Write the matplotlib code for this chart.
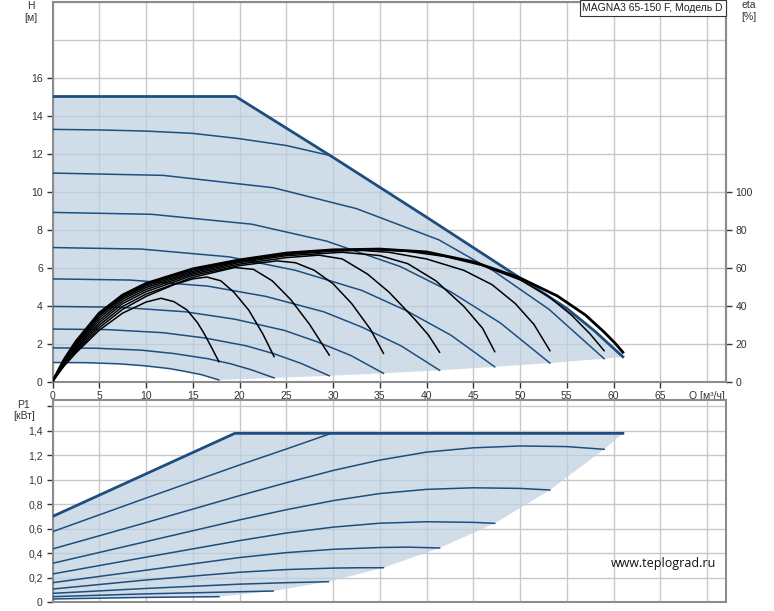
import numpy as np
import matplotlib
matplotlib.use('Agg')
import matplotlib.pyplot as plt

plt.rcParams['font.family'] = ['Liberation Sans', 'DejaVu Sans']

# ---- H(Q) - upper chart ----
# max curve (flat, then power limit)
q_max = [0, 19.6, 30, 40, 50, 55, 58, 61]
h_max = [15, 15, 11.8, 8.65, 5.45, 3.85, 2.65, 1.3]

# lower limit of the working area (min curve + curve end points)
q_min = [0, 3.6, 7.1, 9.8, 12.5, 14.2, 16.0, 17.8, 23.7, 29.6, 35.4, 41.4, 47.3, 53.2, 59.0, 61]
h_min = [1.0, 0.99, 0.93, 0.83, 0.68, 0.53, 0.35, 0.08, 0.19, 0.30, 0.43, 0.59, 0.77, 0.97, 1.20, 1.3]

# speed curves
h_q = [
    [0, 3.6, 7.1, 9.8, 12.5, 14.2, 16.0, 17.8],
    [0, 4.7, 9.5, 13.0, 16.6, 19.0, 21.3, 23.7],
    [0, 5.9, 11.8, 16.3, 20.7, 23.7, 26.6, 29.6],
    [0, 7.1, 14.2, 19.5, 24.8, 28.3, 31.9, 35.4],
    [0, 8.3, 16.6, 22.8, 29.0, 33.1, 37.3, 41.4],
    [0, 9.5, 18.9, 26.0, 33.1, 37.8, 42.6, 47.3],
    [0, 10.6, 21.3, 29.3, 37.2, 42.6, 47.9, 53.2],
    [0, 11.8, 23.6, 32.5, 41.3, 47.2, 53.1, 59.0],
    [0, 5, 10, 15, 20, 25, 29.8],
]
h_h = [
    [1.0, 0.99, 0.93, 0.83, 0.68, 0.53, 0.35, 0.08],
    [1.77, 1.75, 1.65, 1.47, 1.20, 0.94, 0.61, 0.19],
    [2.76, 2.73, 2.57, 2.29, 1.88, 1.46, 0.95, 0.30],
    [3.95, 3.91, 3.67, 3.28, 2.69, 2.09, 1.37, 0.43],
    [5.40, 5.34, 5.02, 4.48, 3.67, 2.86, 1.87, 0.59],
    [7.05, 6.97, 6.56, 5.85, 4.79, 3.74, 2.44, 0.77],
    [8.90, 8.80, 8.28, 7.39, 6.05, 4.72, 3.08, 0.97],
    [10.97, 10.85, 10.20, 9.10, 7.46, 5.81, 3.80, 1.20],
    [13.27, 13.24, 13.18, 13.06, 12.78, 12.42, 11.88],
]

# efficiency curves, eta [%]
eta_q = [
    [0, 1.25, 2.5, 5, 7.5, 10, 11.6, 13, 14.4, 15.5, 16.2, 17.0, 17.8],
    [0, 1.25, 2.5, 5, 7.5, 10, 13, 15, 16.5, 18, 19.4, 21, 22.5, 23.7],
    [0, 1.25, 2.5, 5, 7.5, 10, 15, 19.5, 21.5, 23.5, 25.5, 27.5, 29.6],
    [0, 1.25, 2.5, 5, 7.5, 10, 15, 20, 24, 26, 28, 30, 32, 34, 35.4],
    [0, 1.25, 2.5, 5, 7.5, 10, 15, 20, 25, 28.5, 31, 33.7, 36, 38.7, 40.2, 41.4],
    [0, 1.25, 2.5, 5, 7.5, 10, 15, 20, 25, 31, 35, 38, 41, 44, 46, 47.3],
    [0, 1.25, 2.5, 5, 7.5, 10, 15, 20, 25, 30, 33, 36, 40, 44, 47, 49.5, 51.5, 53.2],
    [0, 1.25, 2.5, 5, 7.5, 10, 15, 20, 25, 30, 34, 38, 42, 46, 50, 53, 55.5, 57.5, 59],
    [0, 1.25, 2.5, 5, 7.5, 10, 15, 20, 25, 30, 35, 40, 45, 50, 54, 57, 59, 60.2, 61],
]
eta_v = [
    [0, 8.2, 15, 27, 36, 41.8, 43.8, 42, 37.6, 31, 25.4, 18, 10.4],
    [0, 8.7, 15.8, 28.3, 38, 44.8, 51, 54, 55, 53, 47, 37.5, 25, 13.1],
    [0, 9.1, 16.6, 29.6, 39.5, 46, 54.8, 60, 59, 53, 43, 30, 13.9],
    [0, 9.6, 17.4, 30.9, 41, 47.3, 55.8, 61, 63.5, 62.5, 58.5, 51.5, 41, 27.5, 14.8],
    [0, 10.0, 18.2, 32.2, 42.2, 48.4, 56.6, 61.8, 65.2, 66.5, 64.5, 56.5, 47, 33, 24.5, 15.4],
    [0, 10.5, 19, 33.5, 43.3, 49.4, 57.3, 62.6, 66.2, 68, 66.3, 62, 53, 39.5, 28, 15.7],
    [0, 10.8, 19.7, 34.6, 44.2, 50.2, 58, 63.2, 66.8, 68.6, 69, 68, 64.5, 58.5, 51, 41, 30, 16.2],
    [0, 11.2, 20.4, 35.3, 44.9, 51, 58.7, 63.6, 67.2, 69, 69.5, 68.5, 65.8, 61, 53.5, 45, 35, 25, 16.2],
    [0, 11.6, 21, 36, 45.5, 51.6, 59.3, 64, 67.6, 69.3, 69.7, 68.2, 63, 54.5, 45, 35, 26, 20, 15.4],
]

# ---- P1(Q) - lower chart ----
q_pmax = [0, 19.5, 61]
p_pmax = [0.70, 1.378, 1.378]
q_pmin = [0, 9, 17.8, 23.6, 29.5, 35.4, 41.4, 47.3, 53.2, 59.0, 61]
p_pmin = [0.027, 0.039, 0.046, 0.092, 0.168, 0.282, 0.443, 0.644, 0.916, 1.248, 1.378]

p_q = [
    [0, 9, 17.8],
    [0, 10, 20, 23.6],
    [0, 10, 20, 25, 29.5],
    [0, 10, 20, 25, 30, 33, 35.4],
    [0, 10, 20, 25, 30, 35, 38, 41.4],
    [0, 10, 20, 25, 30, 35, 40, 45, 47.3],
    [0, 10, 20, 25, 30, 35, 40, 45, 50, 53.2],
    [0, 10, 20, 25, 30, 35, 40, 45, 50, 55, 59],
    [0, 10, 20, 25, 29.7],
]
p_v = [
    [0.027, 0.039, 0.046],
    [0.046, 0.069, 0.086, 0.092],
    [0.073, 0.113, 0.148, 0.160, 0.168],
    [0.108, 0.182, 0.245, 0.267, 0.279, 0.282, 0.282],
    [0.160, 0.262, 0.365, 0.405, 0.432, 0.447, 0.450, 0.443],
    [0.231, 0.368, 0.503, 0.565, 0.613, 0.645, 0.657, 0.652, 0.644],
    [0.318, 0.495, 0.672, 0.755, 0.829, 0.887, 0.921, 0.934, 0.929, 0.916],
    [0.435, 0.650, 0.870, 0.975, 1.075, 1.160, 1.225, 1.260, 1.275, 1.270, 1.248],
    [0.576, 0.850, 1.120, 1.250, 1.375],
]

q_ticks = list(range(0, 70, 5))
q_labels = [str(v) for v in q_ticks]
h_ticks = list(range(0, 18, 2))
eta_ticks = list(range(0, 120, 20))
p_ticks = [0, 0.2, 0.4, 0.6, 0.8, 1.0, 1.2, 1.4]
p_labels = ['0', '0,2', '0,4', '0,6', '0,8', '1,0', '1,2', '1,4']

BLUE = '#1d4e7e'
FILL = '#bccfe1'
GRID = '#c8c8c8'
SPINE = '#8c8c8c'
W, H = 774, 611

fig = plt.figure(figsize=(W / 100, H / 100), dpi=100)

def style(a):
    for s in a.spines.values():
        s.set_color(SPINE)
        s.set_linewidth(1.5)
    a.tick_params(labelsize=7.5, colors='#333333', length=4, width=1, pad=3)
    a.tick_params(which='minor', length=0)
    a.grid(True, which='both', color=GRID, lw=1.0)

# upper chart
ax = fig.add_axes([52.5 / W, 1 - 381.5 / H, 673.2 / W, 380 / H])
ax.set_xlim(0, 72)
ax.set_ylim(0, 20)
ax.set_xticks(q_ticks)
ax.set_xticklabels(q_labels)
ax.set_xticks([70], minor=True)
ax.set_yticks(h_ticks)
ax.set_yticks([18, 20], minor=True)
style(ax)
ax.text(70, -0.5, 'Q [м³/ч]', ha='center', va='top', fontsize=7.5, color='#333333')

ax.fill(np.concatenate([q_max, q_min[::-1]]), np.concatenate([h_max, h_min[::-1]]),
        color=FILL, alpha=0.7, lw=0, zorder=2)
for q, h in zip(h_q, h_h):
    ax.plot(q, h, color=BLUE, lw=1.1, zorder=3)
ax.plot(q_max, h_max, color=BLUE, lw=2, zorder=3)

ax2 = ax.twinx()
ax2.set_ylim(0, 200)
ax2.set_yticks(eta_ticks)
for k in ['top', 'left', 'bottom']:
    ax2.spines[k].set_visible(False)
ax2.spines['right'].set_color(SPINE)
ax2.spines['right'].set_linewidth(1.5)
ax2.tick_params(labelsize=7.5, colors='#333333', length=4, width=1, pad=3)
for i, (q, e) in enumerate(zip(eta_q, eta_v)):
    ax2.plot(q, e, color='black', lw=2 if i == len(eta_q) - 1 else 1.1, zorder=4)

# lower chart
axp = fig.add_axes([52.5 / W, 1 - 602.3 / H, 673.2 / W, 202.3 / H])
axp.set_xlim(0, 72)
axp.set_ylim(0, 1.65)
axp.set_xticks(list(range(0, 75, 5)))
axp.set_yticks(p_ticks)
axp.set_yticklabels(p_labels)
axp.set_yticks([1.6], minor=True)
style(axp)
axp.tick_params(axis='x', length=0, labelbottom=False)
axp.tick_params(axis='y', which='minor', length=4, width=1, color='#333333')

axp.fill(np.concatenate([q_pmax, q_pmin[::-1]]), np.concatenate([p_pmax, p_pmin[::-1]]),
         color=FILL, alpha=0.7, lw=0, zorder=2)
for q, p in zip(p_q, p_v):
    axp.plot(q, p, color=BLUE, lw=1.1, zorder=3)
axp.plot(q_pmax, p_pmax, color=BLUE, lw=2, zorder=3)

# texts
kw = dict(ha='center', va='center', fontsize=7.5, color='#333333')
fig.text(31 / W, 1 - 6 / H, 'H', **kw)
fig.text(31 / W, 1 - 18 / H, '[м]', **kw)
fig.text(749 / W, 1 - 5 / H, 'eta', **kw)
fig.text(749 / W, 1 - 17 / H, '[%]', **kw)
fig.text(24 / W, 1 - 405 / H, 'P1', **kw)
fig.text(24 / W, 1 - 416 / H, '[кВт]', **kw)

fig.text(723 / W, 1 - 8 / H, 'MAGNA3 65-150 F, Модель D', ha='right', va='center',
         fontsize=7.5, color='#222222',
         bbox=dict(boxstyle='square,pad=0.25', fc='white', ec='#333333', lw=0.8))

fig.text(664 / W, 1 - 564 / H, 'www.teplograd.ru', ha='center', va='center',
         fontsize=9, color='#111111', family=['Open Sans', 'DejaVu Sans'])

fig.savefig('out.png', dpi=100, facecolor='white')
